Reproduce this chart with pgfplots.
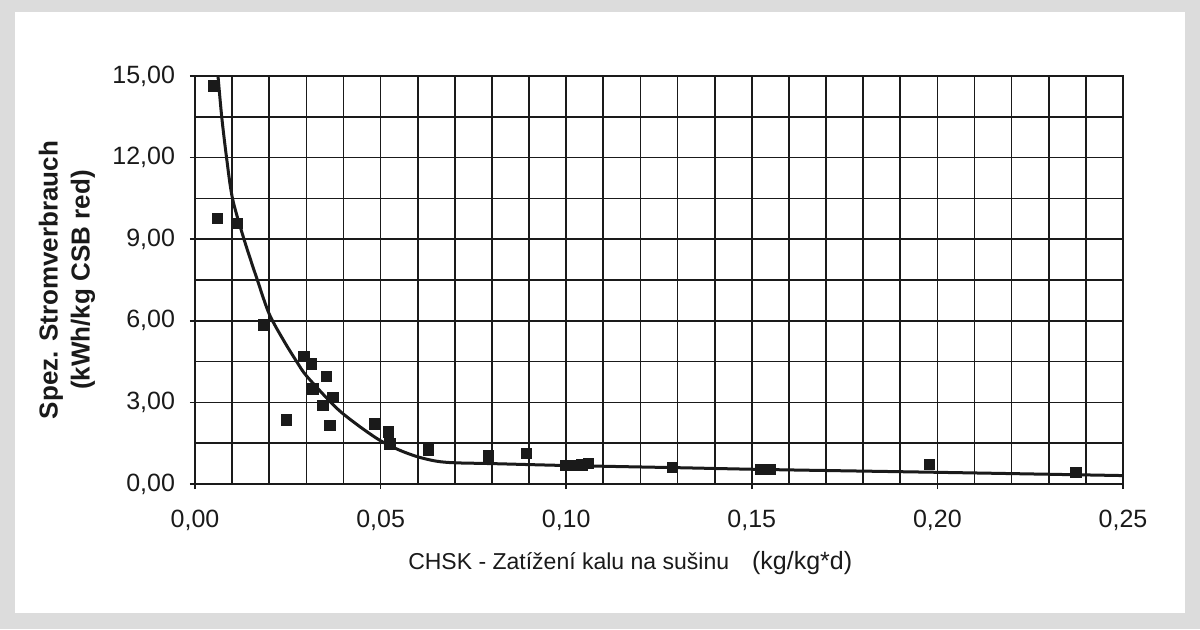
\documentclass[border=0pt]{standalone}
\usepackage{pgfplots}
\pgfplotsset{compat=1.18}
\usepackage{fontspec}
\setmainfont{Liberation Sans}
\definecolor{frame}{HTML}{DCDCDC}
\definecolor{ink}{HTML}{1A1A1A}
\begin{document}
\begin{tikzpicture}
\fill[frame] (-97.5pt,-72.5pt) rectangle (502.5pt,242pt);
\fill[white] (-90pt,-64.5pt) rectangle (495pt,236pt);
\begin{axis}[
  at={(0,0)}, anchor=south west,
  scale only axis, width=464pt, height=204pt,
  xmin=0, xmax=0.25, ymin=0, ymax=15,
  xtick={0,0.05,0.10,0.15,0.20,0.25},
  ytick={0,3,6,9,12,15},
  minor x tick num=4, minor y tick num=1,
  grid=both,
  major grid style={ink, line width=0.85pt},
  minor grid style={ink, line width=0.85pt},
  axis line style={ink, line width=0.85pt},
  tick style={ink, line width=0.85pt},
  major tick length=2.5pt, minor tick length=0pt,
  tick align=outside,
  xtick pos=bottom, ytick pos=left,
  /pgf/number format/.cd, fixed, fixed zerofill, precision=2, use comma, assume math mode=true,
  /pgfplots/.cd,
  tick label style={font=\fontsize{12.5}{14}\selectfont, text=ink},
  xticklabel style={yshift=-7pt},
  yticklabel style={xshift=-4pt},
  scaled x ticks=false,
  ylabel={Spez. Stromverbrauch\\(kWh/kg CSB red)},
  ylabel style={align=center, font=\bfseries\fontsize{13}{16}\selectfont, text=ink, at={(axis description cs:-0.138,0.5)}, anchor=center},
  xlabel={CHSK - Zatížení kalu na sušinu\quad{\fontsize{12.5}{14}\selectfont (kg/kg*d)}},
  xlabel style={font=\fontsize{11.5}{13}\selectfont, text=ink, at={(axis description cs:0.469,-0.194)}, anchor=center},
  clip=true,
]
\addplot[only marks, mark=square*, mark size=2.6pt, mark options={fill=ink, draw=ink}] coordinates {
(0.0049,14.64) (0.0060,9.76) (0.0115,9.58) (0.0185,5.85) (0.0247,2.35)
(0.0293,4.70) (0.0313,4.42) (0.0318,3.50) (0.0354,3.96) (0.0345,2.90)
(0.0371,3.18) (0.0363,2.15) (0.0483,2.21) (0.0521,1.91) (0.0525,1.48)
(0.0629,1.25) (0.0790,1.04) (0.0790,0.90) (0.0892,1.13) (0.0999,0.68)
(0.1031,0.68) (0.1042,0.70) (0.1060,0.76) (0.1286,0.60) (0.1525,0.54)
(0.1550,0.54) (0.1978,0.73) (0.2373,0.42)
};
\addplot[ink, line width=1.5pt, smooth, tension=0.5] coordinates {
(0.0062,15.0) (0.0072,13.5) (0.0085,12.0) (0.0101,10.5) (0.0132,9.0)
(0.0168,7.5) (0.0200,6.25) (0.0240,5.25) (0.0274,4.5) (0.0300,3.98)
(0.0366,3.0) (0.0400,2.57) (0.0450,2.05) (0.0500,1.59) (0.0550,1.25)
(0.0600,1.0) (0.0650,0.84) (0.0700,0.78) (0.0800,0.75) (0.1000,0.68)
(0.1300,0.60) (0.1550,0.53) (0.2000,0.43) (0.2500,0.31)
};
\end{axis}
\end{tikzpicture}
\end{document}
